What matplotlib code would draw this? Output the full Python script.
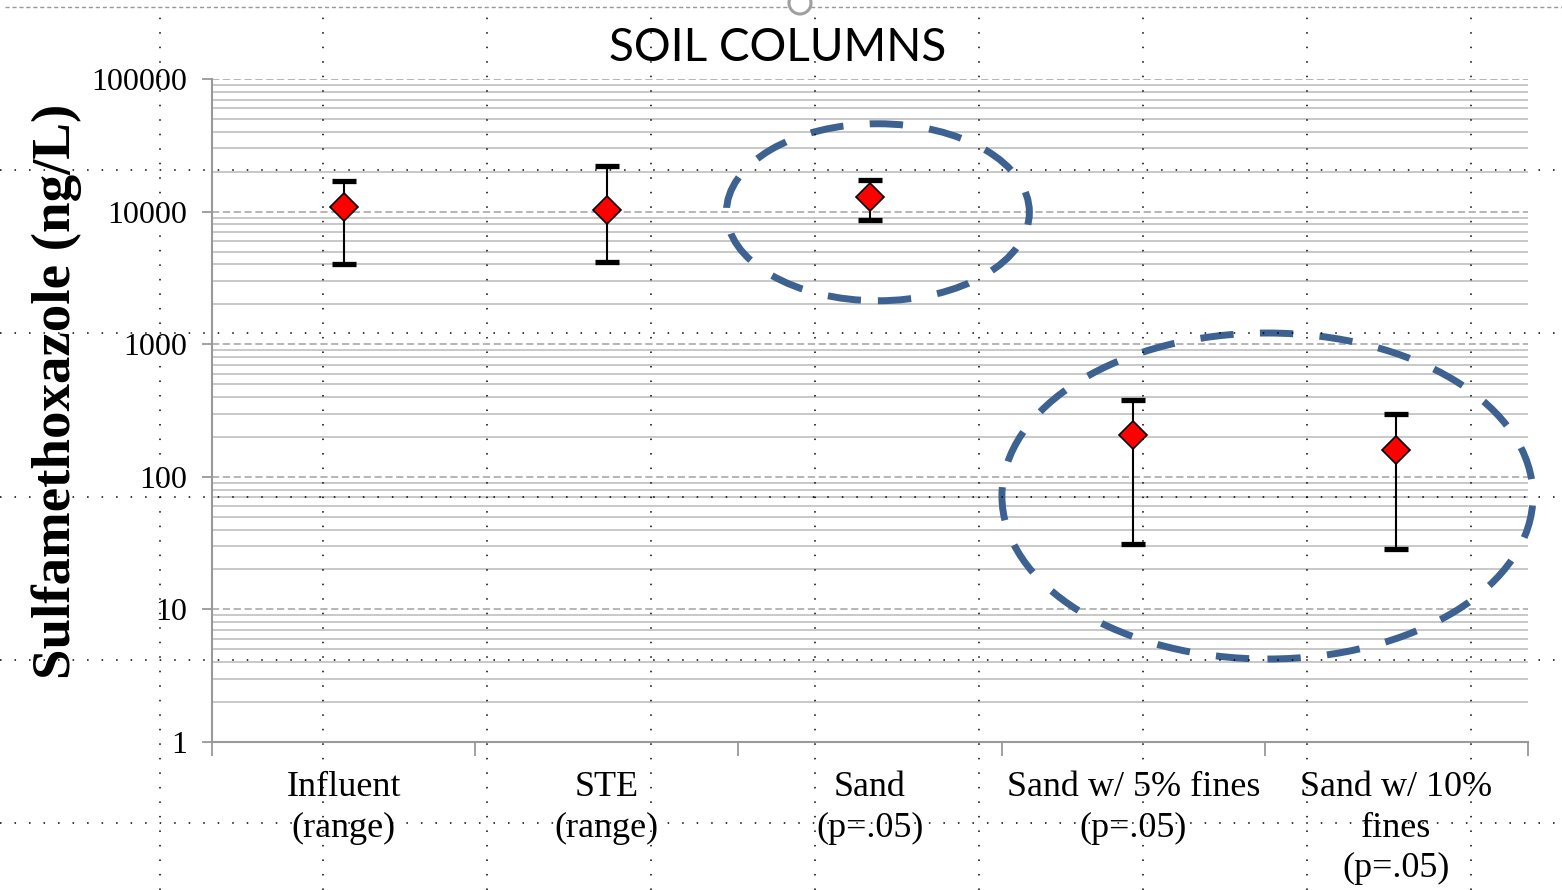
import numpy as np
import matplotlib
matplotlib.use('Agg')
import matplotlib.pyplot as plt
from matplotlib.patches import Ellipse
from matplotlib.lines import Line2D

# data
categories = ['Influent\n(range)', 'STE\n(range)', 'Sand\n(p=.05)',
              'Sand w/ 5% fines\n(p=.05)', 'Sand w/ 10%\nfines\n(p=.05)']
center = [10800, 10300, 12900, 207, 159]
upper = [17000, 22000, 17300, 380, 298]
lower = [4030, 4170, 8650, 31, 28.5]

serif = ['Liberation Serif', 'DejaVu Serif']

fig = plt.figure(figsize=(15.62, 8.9), dpi=100)
ax = fig.add_axes([212 / 1562, 1 - 742 / 890, 1316 / 1562, 663 / 890])

x = np.arange(len(categories)) + 0.5
c = np.array(center)
yerr = [c - np.array(lower), np.array(upper) - c]
line, caps, bars = ax.errorbar(x, c, yerr=yerr, fmt='D', color='black', ecolor='black',
                               elinewidth=1.5, capsize=8.5, capthick=3.8, ms=14.5,
                               mfc='#ff0000', mec='black', zorder=5)
line.set_markeredgewidth(1.2)

ax.set_yscale('log')
ax.set_ylim(1, 100000)
ax.set_xlim(0, len(categories))

# major grid dashed, minor grid solid
ax.yaxis.set_minor_locator(matplotlib.ticker.LogLocator(base=10, subs=np.arange(2, 10)))
ax.grid(True, which='minor', axis='y', color='#c4c4c4', lw=1.3, ls='-')
ax.grid(True, which='major', axis='y', color='#b0b0b0', lw=1.3, ls=(0, (4, 2)))
ax.set_axisbelow(True)

ax.set_yticks([1, 10, 100, 1000, 10000, 100000])
ax.set_yticklabels(['1', '10', '100', '1000', '10000', '100000'])
ax.tick_params(axis='y', which='major', length=7, width=1.3, color='#999999',
               labelsize=23, pad=11)
ax.tick_params(axis='y', which='minor', length=0)
for t in ax.get_yticklabels():
    t.set_family(serif)

ax.set_xticks(np.arange(len(categories) + 1))
ax.set_xticklabels([])
ax.tick_params(axis='x', which='major', length=10, width=1.3, color='#999999')
ax.set_xticks(x, minor=True)
ax.set_xticklabels(categories, minor=True, family=serif, fontsize=26,
                   linespacing=1.3)
ax.tick_params(axis='x', which='minor', length=0, pad=21)

for s in ['top', 'right']:
    ax.spines[s].set_visible(False)
for s in ['left', 'bottom']:
    ax.spines[s].set_color('#999999')
    ax.spines[s].set_linewidth(1.5)

fig.text(57 / 1562, 1 - 391 / 890, 'Sulfamethoxazole (ng/L)', rotation=90,
         ha='center', va='center', family=serif, fontweight='bold', fontsize=39.5)
fig.text(778 / 1562, 1 - 48 / 890, 'SOIL COLUMNS', ha='center', va='center',
         family=['Lato', 'DejaVu Sans'], fontsize=33)

# dashed highlight ellipses
blue = '#3d6190'
for (cx, cy, w, h) in [(0.506, 0.799, 0.2302, 0.267), (0.802, 0.371, 0.4035, 0.4917)]:
    e = Ellipse((cx, cy), w, h, transform=ax.transAxes, fill=False,
                edgecolor=blue, lw=5.0, ls=(0, (4.8, 3.8)), clip_on=False, zorder=6)
    ax.add_patch(e)

# slide grid overlay (dotted)
for yp in [170, 333, 497, 660, 823]:
    fig.add_artist(Line2D([0, 1], [1 - yp / 890] * 2, color='black', lw=1.1,
                          ls=(0, (1, 8.5)), zorder=3))
for xp in [160, 323, 487, 651, 815, 979, 1143, 1307, 1471]:
    fig.add_artist(Line2D([xp / 1562] * 2, [0, 1 - 12 / 890], color='black', lw=1.1,
                          ls=(0, (1, 8.5)), zorder=3))

# selection frame and handle at top
fig.add_artist(Line2D([5 / 1562, 1], [1 - 7 / 890] * 2, color='#999999', lw=1.0,
                      ls=(0, (3, 2)), zorder=3))
fig.add_artist(Ellipse((800 / 1562, 1 - 3 / 890), 22 / 1562, 22 / 890,
                       transform=fig.transFigure, facecolor='white',
                       edgecolor='#a0a0a0', lw=2.2, zorder=4))

fig.savefig('out.png', dpi=100)
